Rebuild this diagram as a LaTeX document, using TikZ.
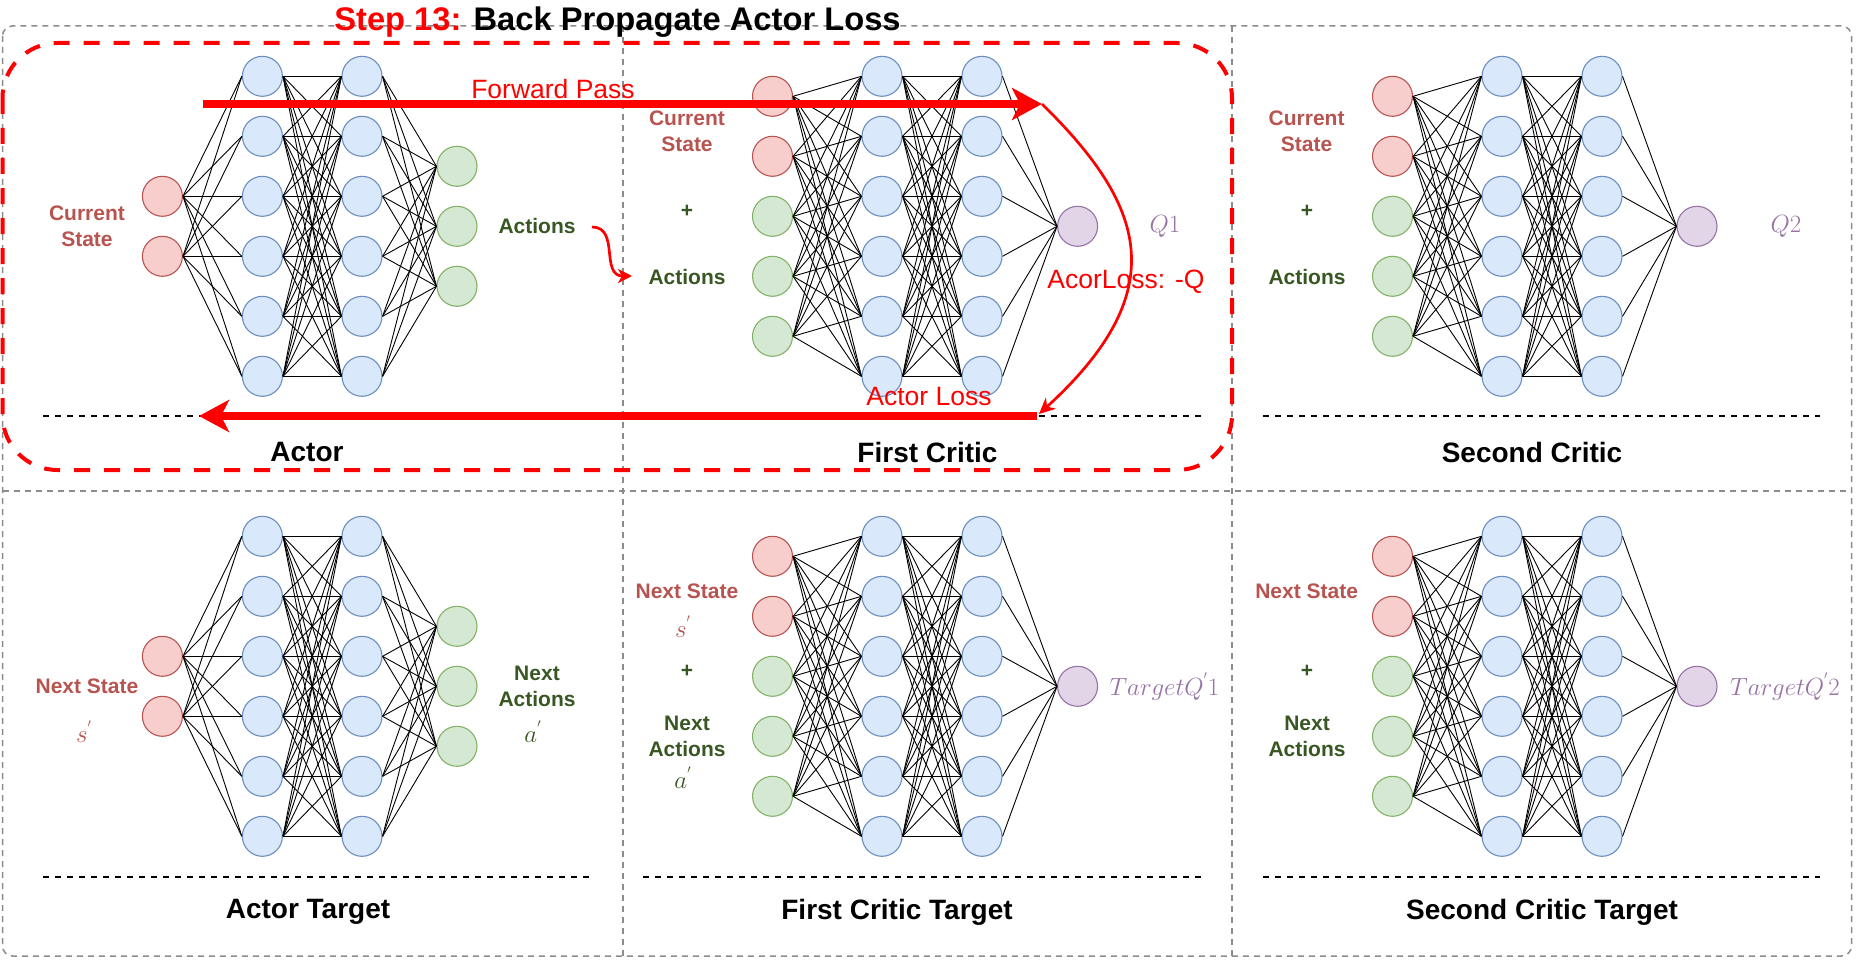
\documentclass[tikz,border=0pt]{standalone}
\usepackage{fontspec}
\setmainfont{Liberation Sans}
\usetikzlibrary{arrows.meta}
\definecolor{bluefill}{HTML}{DAE8FC}
\definecolor{bluestroke}{HTML}{6C8EBF}
\definecolor{redfill}{HTML}{F8CECC}
\definecolor{redstroke}{HTML}{B85450}
\definecolor{greenfill}{HTML}{D5E8D4}
\definecolor{greenstroke}{HTML}{82B366}
\definecolor{purpfill}{HTML}{E1D5E7}
\definecolor{purpstroke}{HTML}{9673A6}
\definecolor{redtxt}{HTML}{B85450}
\definecolor{greentxt}{HTML}{385723}
\definecolor{purptxt}{HTML}{9673A6}
\definecolor{framegray}{HTML}{8C8C8C}
\definecolor{pured}{HTML}{FF0000}
\tikzset{
  neuron/.style={circle, minimum size=40pt, inner sep=0pt, line width=1.1pt},
  nblue/.style={neuron, fill=bluefill, draw=bluestroke},
  nred/.style={neuron, fill=redfill, draw=redstroke},
  ngreen/.style={neuron, fill=greenfill, draw=greenstroke},
  npurple/.style={neuron, fill=purpfill, draw=purpstroke},
  edge/.style={black, line width=0.9pt},
  lbl/.style={font=\bfseries\fontsize{21}{26}\selectfont, align=center, inner sep=0pt},
  redlbl/.style={lbl, text=redtxt},
  greenlbl/.style={lbl, text=greentxt},
  paneltitle/.style={font=\bfseries\fontsize{28}{32}\selectfont, inner sep=0pt},
  mathlbl/.style={font=\fontsize{24}{28}\selectfont, inner sep=0pt},
  redtext/.style={font=\fontsize{26.5}{30}\selectfont, text=pured, inner sep=0pt},
  sepline/.style={black, line width=1.8pt, dash pattern=on 6pt off 6pt},
  framedash/.style={framegray, line width=1.5pt, dash pattern=on 6pt off 5pt},
  bigarrow/.style={pured, line width=7.5pt, -{Stealth[length=30pt, width=32pt, inset=8pt]}},
  thinarrow/.style={pured, line width=2.7pt, -{Stealth[length=16pt, width=15pt, inset=5pt]}},
}
\newcommand{\ActorNet}[2]{%
  \foreach \k in {1,...,6} {
    \node[nblue] (#1a\k) at (262.4, {76.3+60*(\k-1)+#2}) {};
    \node[nblue] (#1b\k) at (362, {76.3+60*(\k-1)+#2}) {};
  }
  \foreach \k in {1,2} \node[nred] (#1i\k) at (162.4, {196.3+60*(\k-1)+#2}) {};
  \foreach \k in {1,2,3} \node[ngreen] (#1o\k) at (457, {166.3+60*(\k-1)+#2}) {};
  \foreach \p in {1,2} \foreach \q in {1,...,6} \draw[edge] (#1i\p.east) -- (#1a\q.west);
  \foreach \p in {1,...,6} \foreach \q in {1,...,6} \draw[edge] (#1a\p.east) -- (#1b\q.west);
  \foreach \p in {1,...,6} \foreach \q in {1,2,3} \draw[edge] (#1b\p.east) -- (#1o\q.west);
}
\newcommand{\CriticNet}[6]{%
  \foreach \k in {1,...,6} {
    \node[nblue] (#1a\k) at (#3, {76.3+60*(\k-1)+#6}) {};
    \node[nblue] (#1b\k) at (#4, {76.3+60*(\k-1)+#6}) {};
  }
  \foreach \k in {1,2} \node[nred] (#1i\k) at (#2, {96.3+60*(\k-1)+#6}) {};
  \foreach \k in {3,4,5} \node[ngreen] (#1i\k) at (#2, {96.3+60*(\k-1)+#6}) {};
  \node[npurple] (#1o) at (#5, {226.3+#6}) {};
  \foreach \p in {1,...,5} \foreach \q in {1,...,6} \draw[edge] (#1i\p.east) -- (#1a\q.west);
  \foreach \p in {1,...,6} \foreach \q in {1,...,6} \draw[edge] (#1a\p.east) -- (#1b\q.west);
  \foreach \p in {1,...,6} \draw[edge] (#1b\p.east) -- (#1o.west);
}
\begin{document}
\begin{tikzpicture}[x=1pt, y=-1pt]
\useasboundingbox (0,0) rectangle (1856,963);
\fill[white] (0,0) rectangle (1856,963);

% frame
\draw[framedash, rounded corners=10pt] (2.5,26) rectangle (1851.5,956);
\draw[framedash] (623,26) -- (623,956);
\draw[framedash] (1232,26) -- (1232,956);
\draw[framedash] (2.5,491) -- (1851.5,491);

% networks
\ActorNet{A}{0}
\ActorNet{T}{460}
\CriticNet{C}{772.5}{882}{982}{1077.6}{0}
\CriticNet{D}{1392.5}{1502}{1602}{1697}{0}
\CriticNet{E}{772.5}{882}{982}{1077.6}{460}
\CriticNet{F}{1392.5}{1502}{1602}{1697}{460}

% separator lines
\draw[sepline] (43,416) -- (589,416);
\draw[sepline] (643,416) -- (1201,416);
\draw[sepline] (1263,416) -- (1820,416);
\draw[sepline] (43,876.7) -- (589,876.7);
\draw[sepline] (643,876.7) -- (1201,876.7);
\draw[sepline] (1263,876.7) -- (1820,876.7);

% labels top row
\node[redlbl] (acs) at (87,226) {Current\\State};
\node[greenlbl] (aact) at (537,226) {Actions};
\node[paneltitle] (tactor) at (307,452) {Actor};

\node[redlbl] (ccs) at (687,131) {Current\\State};
\node[greenlbl] (cplus) at (687,211) {+};
\node[greenlbl] (cact) at (687,277) {Actions};
\node[mathlbl, text=purptxt] (cq) at (1165,226) {$Q1$};
\node[paneltitle] (tcrit) at (927.5,452) {First Critic};

\node[redlbl] (dcs) at (1306.6,131) {Current\\State};
\node[greenlbl] (dplus) at (1307,211) {+};
\node[greenlbl] (dact) at (1307,277) {Actions};
\node[mathlbl, text=purptxt] (dq) at (1786,226) {$Q2$};
\node[paneltitle] (tcrit2) at (1532,452) {Second Critic};

% labels bottom row
\node[redlbl] (tns) at (87,686.7) {Next State};
\node[mathlbl, text=redtxt] (tsp) at (84,731.7) {$s^{'}$};
\node[greenlbl] (tna) at (537,686.5) {Next\\Actions};
\node[mathlbl, text=greentxt] (tap) at (533,732) {$a^{'}$};
\node[paneltitle] (ttarget) at (308,912) {Actor Target};

\node[redlbl] (ens) at (687,591.7) {Next State};
\node[mathlbl, text=redtxt] (esp) at (683,626.7) {$s^{'}$};
\node[greenlbl] (eplus) at (687,671.7) {+};
\node[greenlbl] (ena) at (687,736) {Next\\Actions};
\node[mathlbl, text=greentxt] (eap) at (683,778) {$a^{'}$};
\node[mathlbl, text=purptxt] (eq) at (1164.5,686.7) {$TargetQ^{'}1$};
\node[paneltitle] (tet) at (897,912) {First Critic Target};

\node[redlbl] (fns) at (1306.6,591.7) {Next State};
\node[greenlbl] (fplus) at (1307,671.7) {+};
\node[greenlbl] (fna) at (1307,736) {Next\\Actions};
\node[mathlbl, text=purptxt] (fq) at (1785,686.7) {$TargetQ^{'}2$};
\node[paneltitle] (tft) at (1542,912) {Second Critic Target};

% highlight box
\draw[pured, line width=4pt, dash pattern=on 16pt off 14pt, rounded corners=55pt] (2.5,43) rectangle (1232,470);

% title
\node[font=\bfseries\fontsize{32.7}{38}\selectfont, inner sep=0pt] (title) at (617.5,22) {\textcolor{pured}{Step 13:} Back Propagate Actor Loss};

% arrows
\coordinate (fpstart) at (203,104);
\coordinate (fpend) at (1042,104);
\coordinate (bpstart) at (1037,416);
\coordinate (bpend) at (199,416);
\coordinate (lossend) at (1039,414);
\coordinate (actstart) at (592,227);
\coordinate (actend) at (632,276);
\draw[bigarrow] (fpstart) -- (fpend);
\draw[bigarrow] (bpstart) -- (bpend);
\draw[thinarrow] (fpend) .. controls (1145,205) and (1175,290) .. (lossend);
\draw[pured, line width=2.7pt, -{Stealth[length=14pt, width=14pt, inset=4pt]}] (actstart) .. controls (620,227) and (600,276) .. (actend);

\node[redtext] (fplbl) at (553,89) {Forward Pass};
\node[redtext] (losslbl) at (1126,282) {AcorLoss: -Q};
\node[redtext] (actlosslbl) at (929,397) {Actor Loss};
\end{tikzpicture}
\end{document}
